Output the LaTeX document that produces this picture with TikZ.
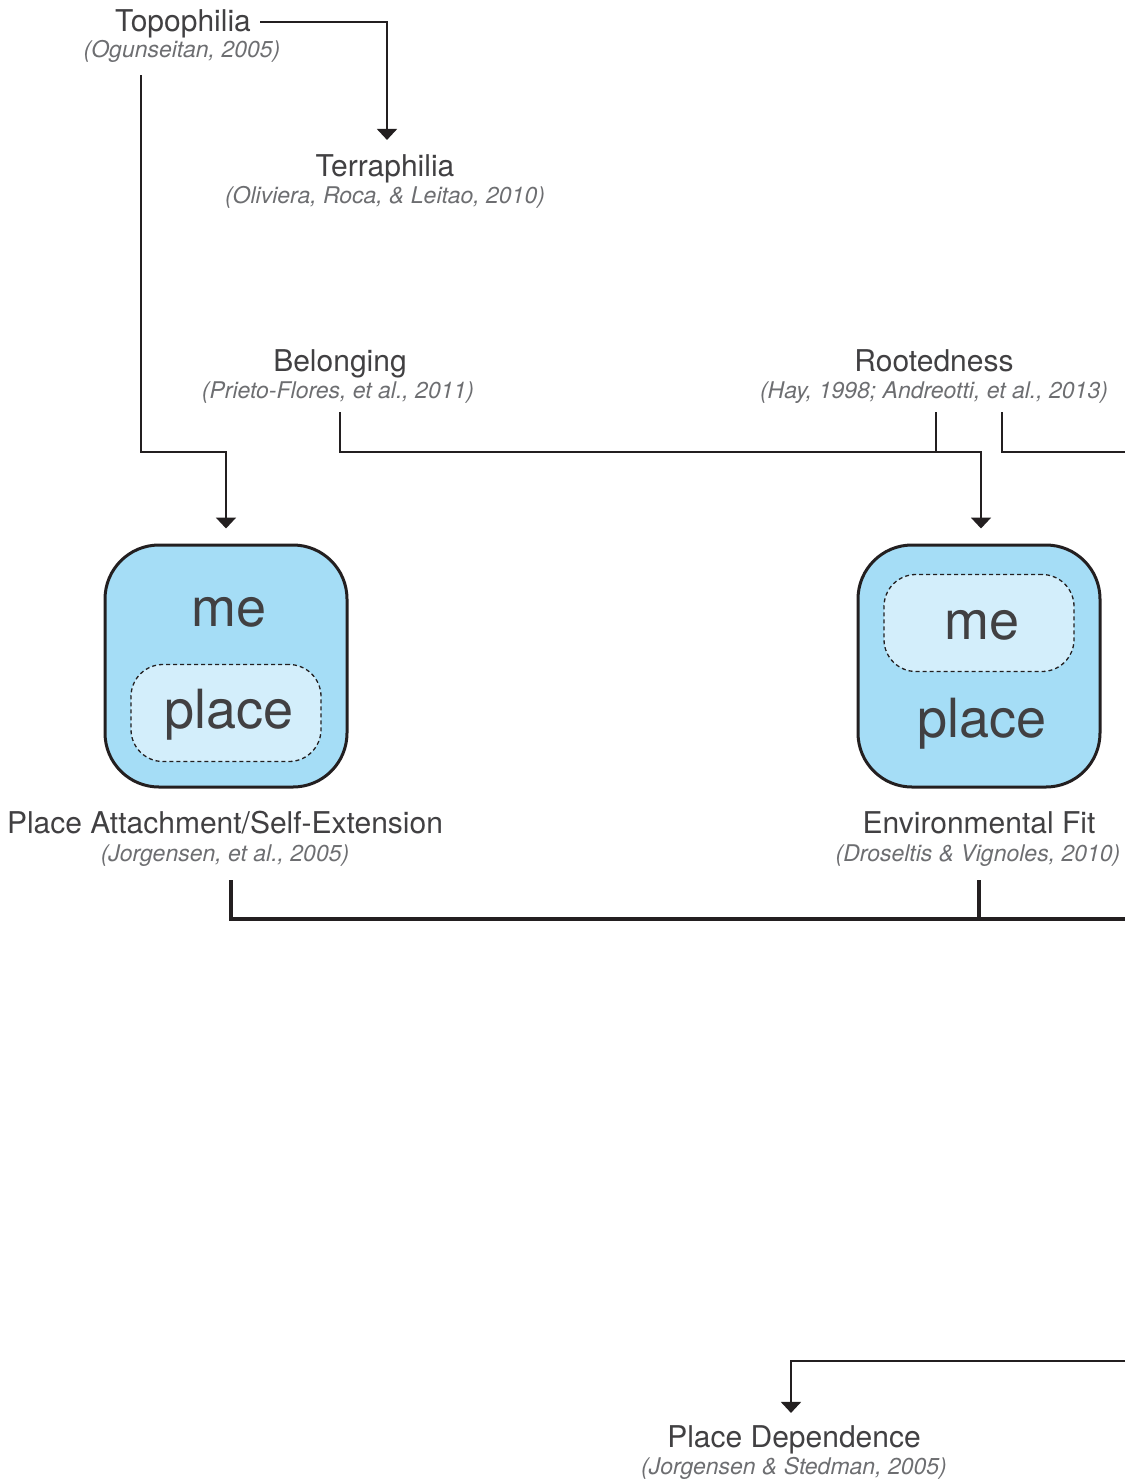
\documentclass[tikz,border=0pt]{standalone}
\usepackage{fontspec}
\setmainfont{TeX Gyre Heros}
\usetikzlibrary{arrows.meta}
\definecolor{txt}{HTML}{414042}
\definecolor{citec}{HTML}{6D6E71}
\definecolor{ln}{HTML}{231F20}
\definecolor{boxfill}{HTML}{A5DDF6}
\definecolor{innerfill}{HTML}{D3EEFB}
\begin{document}
\begin{tikzpicture}[x=1pt,y=-1pt,
  title/.style={text=txt,font=\fontsize{30}{34}\selectfont,inner sep=0pt,anchor=base},
  citetxt/.style={text=citec,font=\fontsize{23}{26}\selectfont\itshape,inner sep=0pt,anchor=base},
  conn/.style={draw=ln,line width=2pt},
  arr/.style={conn,-{Triangle[width=20pt,length=11pt]}},
  heavy/.style={draw=ln,line width=4pt},
  outerbox/.style={draw=ln,line width=3pt,fill=boxfill,rounded corners=54pt,minimum width=242pt,minimum height=242pt,inner sep=0pt},
  innerbox/.style={draw=ln,line width=1.3pt,dash pattern=on 4pt off 3pt,fill=innerfill,rounded corners=32pt,minimum width=190pt,minimum height=97pt,inner sep=0pt},
  big/.style={text=txt,font=\fontsize{54}{60}\selectfont,inner sep=0pt,anchor=base}]
\useasboundingbox (0,0) rectangle (1125,1481);

% titles and citations
\node[title] (topo) at (183,31) {Topophilia};
\node[citetxt] (topoc) at (182,57) {(Ogunseitan, 2005)};
\node[title] (terra) at (385,176) {Terraphilia};
\node[citetxt] (terrac) at (385,203) {(Oliviera, Roca, \& Leitao, 2010)};
\node[title] (bel) at (340,371) {Belonging};
\node[citetxt] (belc) at (338,398) {(Prieto-Flores, et al., 2011)};
\node[title] (root) at (934,371) {Rootedness};
\node[citetxt] (rootc) at (934,398) {(Hay, 1998; Andreotti, et al., 2013)};
\node[title] (pa) at (225,833) {Place Attachment/Self-Extension};
\node[citetxt] (pac) at (225,861) {(Jorgensen, et al., 2005)};
\node[title] (ef) at (979,833) {Environmental Fit};
\node[citetxt] (efc) at (978,861) {(Droseltis \& Vignoles, 2010)};
\node[title] (pd) at (794,1447) {Place Dependence};
\node[citetxt] (pdc) at (794,1474) {(Jorgensen \& Stedman, 2005)};

% boxes
\node[outerbox] (box1) at (226,666) {};
\node[innerbox] (in1) at (226,713) {};
\node[big] (me1) at (229,626) {me};
\node[big] (pl1) at (229,728) {place};

\node[outerbox] (box2) at (979,666) {};
\node[innerbox] (in2) at (979,623) {};
\node[big] (me2) at (982,639) {me};
\node[big] (pl2) at (982,737) {place};

% free ends
\coordinate (t1) at (141,75);
\coordinate (b1) at (340,412);
\coordinate (r1) at (936,412);
\coordinate (r2) at (1002,412);
\coordinate (rE) at (1125,452);
\coordinate (p1) at (231,880);
\coordinate (e1) at (979,880);
\coordinate (hE) at (1125,919);
\coordinate (dE) at (1125,1361);

% connectors
\draw[arr] ([xshift=9pt,yshift=1pt]topo.east) -| ([xshift=2pt,yshift=14pt]terra.north);
\draw[arr] (t1) -- (141,452) -| ([yshift=15pt]box1.north);
\draw[arr] (b1) -- (340,452) -| ([xshift=2pt,yshift=15pt]box2.north);
\draw[conn] (r1) -- (936,452);
\draw[conn] (r2) |- (rE);
\draw[heavy] (p1) |- (hE);
\draw[heavy] (e1) -- (979,919);
\draw[arr] (dE) -| ([xshift=-3pt,yshift=12pt]pd.north);
\end{tikzpicture}
\end{document}
